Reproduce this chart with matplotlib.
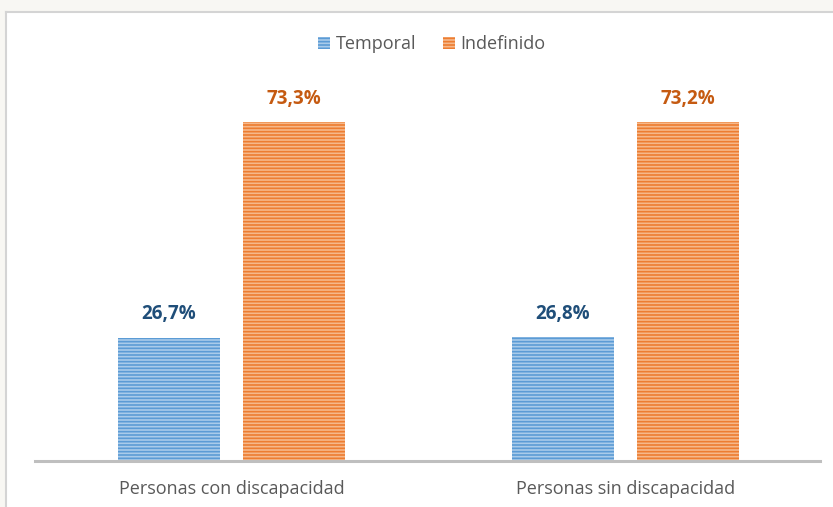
import numpy as np
import matplotlib.pyplot as plt
from matplotlib.patches import Rectangle

categorias = ['Personas con discapacidad', 'Personas sin discapacidad']
series = ['Temporal', 'Indefinido']
temporal = [26.7, 26.8]
indefinido = [73.3, 73.2]

plt.rcParams['font.family'] = ['Open Sans', 'DejaVu Sans']
plt.rcParams['hatch.linewidth'] = 1.2

fig = plt.figure(figsize=(8.33, 5.07), dpi=100, facecolor='white')

# marco gris/beige de la captura
fig.patches.append(Rectangle((0, 1 - 11 / 507), 1, 11 / 507, transform=fig.transFigure,
                             facecolor='#F8F7F3', edgecolor='none', zorder=0))
fig.patches.append(Rectangle((0, 0), 6 / 833, 1, transform=fig.transFigure,
                             facecolor='#F8F7F3', edgecolor='none', zorder=0))
fig.add_artist(plt.Line2D([6 / 833, 1], [1 - 12 / 507, 1 - 12 / 507], transform=fig.transFigure,
                          color='#D4D4D4', lw=1.5))
fig.add_artist(plt.Line2D([6 / 833, 6 / 833], [0, 1 - 12 / 507], transform=fig.transFigure,
                          color='#D4D4D4', lw=1.5))

ax = fig.add_axes([35 / 833, 46 / 507, 785 / 833, 370 / 507])
x = np.arange(len(categorias))
ancho = 0.259
desp = 0.1586

azul_claro, azul = '#A9CBEA', '#5B9BD5'
naranja_claro, naranja = '#F6B88A', '#ED7D31'

b1 = ax.bar(x - desp, temporal, ancho, color=azul_claro, edgecolor=azul, hatch='-----', lw=0,
            label=series[0])
b2 = ax.bar(x + desp, indefinido, ancho, color=naranja_claro, edgecolor=naranja, hatch='-----', lw=0,
            label=series[1])

for xi, v in zip(x - desp, temporal):
    ax.text(xi, v + 2.9, f'{v:.1f}%'.replace('.', ','), ha='center', va='bottom',
            fontsize=13.5, fontweight='bold', color='#1F4E79')
for xi, v in zip(x + desp, indefinido):
    ax.text(xi, v + 2.9, f'{v:.1f}%'.replace('.', ','), ha='center', va='bottom',
            fontsize=13.5, fontweight='bold', color='#C55A11')

ax.set_xlim(-0.4987, 1.4937)
ax.set_ylim(0, 80)
ax.set_xticks(x)
ax.set_xticklabels(categorias, fontsize=13, color='#595959')
ax.tick_params(axis='x', length=0, pad=14)
ax.set_yticks([])
for s in ['top', 'left', 'right']:
    ax.spines[s].set_visible(False)
ax.spines['bottom'].set_color('#BFBFBF')
ax.spines['bottom'].set_linewidth(2.2)
ax.set_facecolor('none')

fig.legend(handles=[b1, b2], labels=series, loc='center', bbox_to_anchor=(432 / 833, 1 - 44 / 507),
           ncol=2, frameon=False, fontsize=13, handlelength=0.65, handleheight=0.65,
           handletextpad=0.3, columnspacing=1.5, labelcolor='#595959')

fig.savefig('out.png', dpi=100, facecolor=fig.get_facecolor())
